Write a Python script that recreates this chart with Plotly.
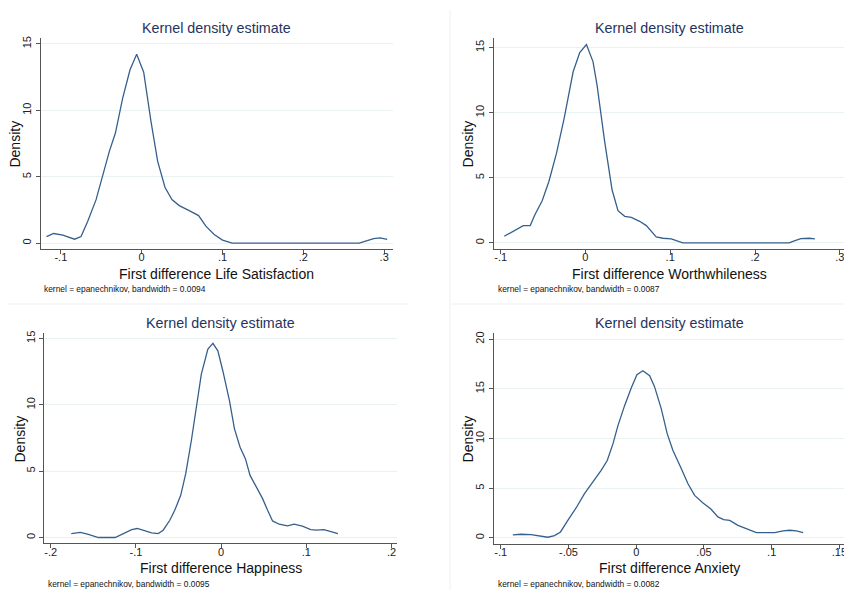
import plotly.graph_objects as go

# ---------------- data ----------------
ls_x = [-0.1177, -0.109, -0.0975, -0.083, -0.075, -0.0667, -0.0564, -0.050, -0.040, -0.0325,
        -0.0235, -0.0144, -0.0062, 0.0025, 0.0115, 0.0198, 0.0288, 0.0374, 0.0465, 0.0588,
        0.0704, 0.0794, 0.0897, 0.100, 0.112, 0.195, 0.269, 0.277, 0.287, 0.295, 0.3037]
ls_y = [0.50, 0.73, 0.60, 0.30, 0.50, 1.65, 3.28, 4.66, 6.91, 8.29,
        10.92, 13.05, 14.22, 12.87, 9.17, 6.16, 4.21, 3.28, 2.83, 2.45,
        2.08, 1.28, 0.65, 0.23, 0.0, 0.0, 0.0, 0.15, 0.35, 0.40, 0.28]

ww_x = [-0.0957, -0.0863, -0.0733, -0.0651, -0.0596, -0.051, -0.0431, -0.0341, -0.0251, -0.0145,
        -0.0067, 0.0012, 0.009, 0.0137, 0.0227, 0.0314, 0.0384, 0.0463, 0.0541, 0.0639,
        0.0718, 0.0835, 0.0914, 0.1012, 0.1071, 0.1149, 0.164, 0.2404, 0.2463, 0.2541,
        0.2639, 0.2706]
ww_y = [0.51, 0.84, 1.33, 1.33, 2.17, 3.24, 4.72, 6.89, 9.57, 13.14,
        14.62, 15.23, 13.9, 12.12, 7.78, 4.08, 2.47, 2.04, 1.96, 1.66,
        1.33, 0.46, 0.36, 0.31, 0.20, 0.0, 0.0, 0.0, 0.15, 0.33,
        0.36, 0.31]

hp_x = [-0.1759, -0.1654, -0.1568, -0.144, -0.1245, -0.1148, -0.105, -0.0984, -0.0907, -0.0817,
        -0.0739, -0.0681, -0.0603, -0.0545, -0.0475, -0.0416, -0.035, -0.0292, -0.0233, -0.0156,
        -0.0097, -0.0039, 0.0019, 0.0097, 0.0156, 0.0222, 0.0284, 0.0339, 0.0409, 0.0486,
        0.0545, 0.0603, 0.0681, 0.0778, 0.0856, 0.0953, 0.1051, 0.1117, 0.1206, 0.1284, 0.137]
hp_y = [0.30, 0.38, 0.25, 0.0, 0.0, 0.30, 0.60, 0.68, 0.55, 0.35,
        0.30, 0.55, 1.30, 2.05, 3.18, 4.81, 7.31, 9.82, 12.32, 14.20,
        14.63, 14.07, 12.57, 10.32, 8.19, 6.81, 5.94, 4.68, 3.81, 2.93,
        2.05, 1.25, 1.0, 0.88, 1.0, 0.85, 0.60, 0.55, 0.60, 0.48, 0.30]

ax_x = [-0.0911, -0.085, -0.0776, -0.0714, -0.0653, -0.0603, -0.0559, -0.0505, -0.0443, -0.0382,
        -0.0308, -0.0259, -0.0214, -0.0172, -0.0135, -0.0086, -0.0037, 0.0005, 0.0049, 0.0099,
        0.0135, 0.0185, 0.0229, 0.0271, 0.0328, 0.0382, 0.0431, 0.0493, 0.0549, 0.0603,
        0.0645, 0.069, 0.0751, 0.0813, 0.0887, 0.0924, 0.1022, 0.1084, 0.1133, 0.1182, 0.1232]
ax_y = [0.30, 0.37, 0.33, 0.20, 0.07, 0.23, 0.60, 1.77, 3.04, 4.45,
        5.79, 6.79, 7.79, 9.46, 11.30, 13.31, 15.08, 16.42, 16.82, 16.32,
        15.22, 12.98, 10.47, 8.80, 7.12, 5.45, 4.28, 3.51, 2.94, 2.11,
        1.84, 1.77, 1.27, 0.94, 0.54, 0.54, 0.54, 0.70, 0.77, 0.70, 0.54]

# tick labels
ls_xticks = [-0.1, 0, 0.1, 0.2, 0.3]
ls_xlabels = ["-.1", "0", ".1", ".2", ".3"]
ww_xticks = [-0.1, 0, 0.1, 0.2, 0.3]
ww_xlabels = ["-.1", "0", ".1", ".2", ".3"]
hp_xticks = [-0.2, -0.1, 0, 0.1, 0.2]
hp_xlabels = ["-.2", "-.1", "0", ".1", ".2"]
ax_xticks = [-0.1, -0.05, 0, 0.05, 0.1, 0.15]
ax_xlabels = ["-.1", "-.05", "0", ".05", ".1", ".15"]
y15_ticks = [0, 5, 10, 15]
y20_ticks = [0, 5, 10, 15, 20]

x_titles = ["First difference Life Satisfaction", "First difference Worthwhileness",
            "First difference Happiness", "First difference Anxiety"]
notes = ["kernel = epanechnikov, bandwidth = 0.0094", "kernel = epanechnikov, bandwidth = 0.0087",
         "kernel = epanechnikov, bandwidth = 0.0095", "kernel = epanechnikov, bandwidth = 0.0082"]
panel_title = "Kernel density estimate"

# ---------------- styling / layout ----------------
# The page body has an 8px default margin, so the figure starts at (8, 8)
# in the window; map reference pixel positions accordingly.
OFF = 8
W, H = 852, 590
FONT = "Liberation Sans, Arial, Helvetica, sans-serif"
LINE = "#36608c"
NAVY = "#1f3461"
AXC = "#555555"
GRID = "#e9f1f2"


def px(xp):
    return (xp - OFF) / W


def py(yp):
    return 1 - (yp - OFF) / H


panels = [
    dict(x=ls_x, y=ls_y, xt=ls_xticks, xl=ls_xlabels, yt=y15_ticks,
         xdom=[px(40.7), px(394)], ydom=[py(248), py(36)],
         xr=[-0.125, 0.311], yr=[-0.45, 15.45],
         tx=px(217), ty=py(26), xty=py(273), dx=px(15), dy=py(142), nx=px(42), ny=py(288)),
    dict(x=ww_x, y=ww_y, xt=ww_xticks, xl=ww_xlabels, yt=y15_ticks,
         xdom=[px(495), px(847.7)], ydom=[py(248), py(36)],
         xr=[-0.108, 0.307], yr=[-0.48, 15.74],
         tx=px(671), ty=py(26), xty=py(273), dx=px(469), dy=py(142), nx=px(497), ny=py(288)),
    dict(x=hp_x, y=hp_y, xt=hp_xticks, xl=hp_xlabels, yt=y15_ticks,
         xdom=[px(44.3), px(398.3)], ydom=[py(543.3), py(332)],
         xr=[-0.2077, 0.2068], yr=[-0.45, 15.42],
         tx=px(221.5), ty=py(321.7), xty=py(567.7), dx=px(20), dy=py(438), nx=px(46), ny=py(583.7)),
    dict(x=ax_x, y=ax_y, xt=ax_xticks, xl=ax_xlabels, yt=y20_ticks,
         xdom=[px(495), px(846.7)], ydom=[py(544), py(332)],
         xr=[-0.1051, 0.1539], yr=[-0.63, 20.63],
         tx=px(671), ty=py(322), xty=py(568), dx=px(469), dy=py(438), nx=px(497), ny=py(584)),
]

fig = go.Figure()
annotations = []
layout_axes = {}

for i, p in enumerate(panels):
    n = "" if i == 0 else str(i + 1)
    fig.add_trace(go.Scatter(x=p["x"], y=p["y"], mode="lines",
                             line=dict(color=LINE, width=1.3),
                             xaxis="x" + n, yaxis="y" + n, showlegend=False,
                             hoverinfo="x+y"))
    layout_axes["xaxis" + n] = dict(
        domain=p["xdom"], range=p["xr"], anchor="y" + n,
        tickmode="array", tickvals=p["xt"], ticktext=p["xl"],
        showline=True, linecolor=AXC, linewidth=1,
        ticks="outside", ticklen=4, tickcolor=AXC, tickwidth=1,
        ticklabelstandoff=-6,
        showgrid=False, zeroline=False,
        tickfont=dict(family=FONT, size=11, color="#222222"))
    layout_axes["yaxis" + n] = dict(
        domain=p["ydom"], range=p["yr"], anchor="x" + n,
        tickmode="array", tickvals=p["yt"], ticktext=[str(v) for v in p["yt"]],
        tickangle=-90,
        showline=True, linecolor=AXC, linewidth=1,
        ticks="outside", ticklen=4, tickcolor=AXC, tickwidth=1,
        showgrid=True, gridcolor=GRID, gridwidth=1, zeroline=False,
        tickfont=dict(family=FONT, size=11, color="#222222"))
    annotations += [
        dict(text=panel_title, x=p["tx"], y=p["ty"], xref="paper", yref="paper",
             xanchor="center", yanchor="middle", showarrow=False,
             font=dict(family=FONT, size=14.3, color=NAVY)),
        dict(text=x_titles[i], x=p["tx"], y=p["xty"], xref="paper", yref="paper",
             xanchor="center", yanchor="middle", showarrow=False,
             font=dict(family=FONT, size=14, color="#111111")),
        dict(text="Density", x=p["dx"], y=p["dy"], xref="paper", yref="paper",
             xanchor="center", yanchor="middle", showarrow=False, textangle=-90,
             font=dict(family=FONT, size=14, color="#111111")),
        dict(text=notes[i], x=p["nx"], y=p["ny"], xref="paper", yref="paper",
             xanchor="left", yanchor="middle", showarrow=False,
             font=dict(family=FONT, size=8.4, color="#111111")),
    ]

# faint panel separators from the original composite image
SEP = dict(color="#f0f0f0", width=1)
shapes = [
    dict(type="line", xref="paper", yref="paper", x0=0, x1=px(409), y0=py(303), y1=py(303), line=SEP),
    dict(type="line", xref="paper", yref="paper", x0=px(451), x1=1, y0=py(303), y1=py(303), line=SEP),
    dict(type="line", xref="paper", yref="paper", x0=px(451), x1=px(451), y0=0, y1=1, line=SEP),
]

fig.update_layout(
    width=W, height=H,
    margin=dict(l=0, r=0, t=0, b=0),
    paper_bgcolor="white", plot_bgcolor="white",
    annotations=annotations, shapes=shapes,
    font=dict(family=FONT),
    **layout_axes,
)

fig.write_html("out.html")
